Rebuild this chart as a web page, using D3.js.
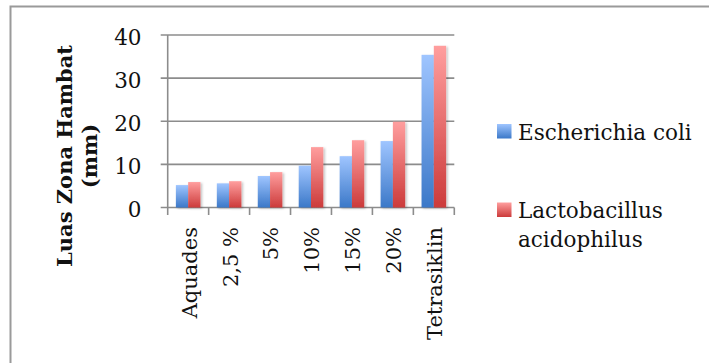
<!DOCTYPE html>
<html>
<head>
<meta charset="utf-8">
<script src="https://cdn.jsdelivr.net/npm/d3@7"></script>
<style>
  html, body { margin: 0; padding: 0; background: #fff; }
  svg { display: block; font-family: "DejaVu Serif", "Liberation Serif", serif; }
</style>
</head>
<body>
<svg id="chart"></svg>
<script>
// data
var categories = ["Aquades", "2,5 %", "5%", "10%", "15%", "20%", "Tetrasiklin"];
var seriesNames = ["Escherichia coli", "Lactobacillus acidophilus"];
var ecoliValues = [5.2, 5.6, 7.3, 9.7, 11.9, 15.4, 35.4];
var lactoValues = [5.9, 6.1, 8.2, 14.0, 15.6, 19.9, 37.5];
var yTicks = [0, 10, 20, 30, 40];

var W = 709, H = 363;
var svg = d3.select("#chart").attr("width", W).attr("height", H);

// outer frame (runs off the right and bottom edge)
svg.append("rect")
    .attr("x", 10.5).attr("y", 6.5)
    .attr("width", 760).attr("height", 420)
    .attr("fill", "none")
    .attr("stroke", "#9a9a9a")
    .attr("stroke-width", 2);

// gradients for bars
var defs = svg.append("defs");
var grads = [
    { id: "gBlue", top: "#9fc5ff", bottom: "#3b78c8" },
    { id: "gRed", top: "#ff9e9e", bottom: "#cc3b3b" }
];
grads.forEach(function (g) {
    var lg = defs.append("linearGradient").attr("id", g.id)
        .attr("x1", 0).attr("y1", 0).attr("x2", 0).attr("y2", 1);
    lg.append("stop").attr("offset", "0%").attr("stop-color", g.top);
    lg.append("stop").attr("offset", "100%").attr("stop-color", g.bottom);
});
defs.append("filter").attr("id", "shadow")
    .attr("x", "-20%").attr("y", "-5%").attr("width", "150%").attr("height", "115%")
    .append("feDropShadow")
    .attr("dx", 1.5).attr("dy", 1).attr("stdDeviation", 1.2)
    .attr("flood-color", "#000").attr("flood-opacity", 0.25);

var plotLeft = 167.7, plotRight = 454.3, plotTop = 35, plotBottom = 207.5;

var x0 = d3.scaleBand()
    .domain(categories)
    .range([plotLeft, plotRight])
    .paddingInner(0.4)
    .paddingOuter(0.2);

var x1 = d3.scaleBand()
    .domain(seriesNames)
    .range([0, x0.bandwidth()]);

var y = d3.scaleLinear()
    .domain([0, 40])
    .range([plotBottom, plotTop]);

var axisColor = "#8c8c8c";

// gridlines
svg.append("g").selectAll("line")
    .data(yTicks)
    .enter().append("line")
    .attr("x1", plotLeft - 7).attr("x2", plotRight)
    .attr("y1", function (d) { return y(d); })
    .attr("y2", function (d) { return y(d); })
    .attr("stroke", axisColor)
    .attr("stroke-width", 1.6);

// y axis line
svg.append("line")
    .attr("x1", plotLeft).attr("x2", plotLeft)
    .attr("y1", plotTop).attr("y2", plotBottom)
    .attr("stroke", axisColor).attr("stroke-width", 1.6);

// y tick labels
svg.append("g").selectAll("text")
    .data(yTicks)
    .enter().append("text")
    .attr("x", 141.5)
    .attr("y", function (d) { return y(d) + 9.5; })
    .attr("text-anchor", "end")
    .attr("font-size", 21.5)
    .attr("fill", "#111")
    .text(function (d) { return d; });

// category ticks on x axis
var step = x0.step();
var boundaries = d3.range(categories.length + 1).map(function (i) {
    return plotLeft + i * step;
});
svg.append("g").selectAll("line")
    .data(boundaries)
    .enter().append("line")
    .attr("x1", function (d) { return d; })
    .attr("x2", function (d) { return d; })
    .attr("y1", plotBottom).attr("y2", plotBottom + 7.5)
    .attr("stroke", axisColor).attr("stroke-width", 1.6);

// bars
var rows = categories.map(function (c, i) {
    return { cat: c, vals: [ecoliValues[i], lactoValues[i]] };
});
var groups = svg.append("g").selectAll("g")
    .data(rows)
    .enter().append("g")
    .attr("transform", function (d) { return "translate(" + x0(d.cat) + ",0)"; });

groups.selectAll("rect")
    .data(function (d) {
        return d.vals.map(function (v, j) { return { name: seriesNames[j], value: v, j: j }; });
    })
    .enter().append("rect")
    .attr("x", function (d) { return x1(d.name); })
    .attr("width", x1.bandwidth())
    .attr("y", function (d) { return y(d.value); })
    .attr("height", function (d) { return y(0) - y(d.value); })
    .attr("fill", function (d) { return "url(#" + grads[d.j].id + ")"; })
    .attr("filter", "url(#shadow)");

// x labels (rotated)
svg.append("g").selectAll("text")
    .data(categories)
    .enter().append("text")
    .attr("transform", function (d) {
        return "translate(" + (x0(d) + x0.bandwidth() / 2) + "," + 227 + ") rotate(-90)";
    })
    .attr("dy", "0.4em")
    .attr("text-anchor", "end")
    .attr("font-size", 21)
    .attr("fill", "#111")
    .text(function (d) { return d; });

// y axis title
var title = svg.append("text")
    .attr("transform", "translate(72,156) rotate(-90)")
    .attr("text-anchor", "middle")
    .attr("font-size", 21)
    .attr("font-weight", "bold")
    .attr("fill", "#111");
title.append("tspan").attr("x", 0).attr("y", 0).text("Luas Zona Hambat");
title.append("tspan").attr("x", 0).attr("y", 25).text("(mm)");

// legend
var legendItems = [
    { lines: ["Escherichia coli"], y: 124, grad: "gBlue" },
    { lines: ["Lactobacillus", "acidophilus"], y: 202.5, grad: "gRed" }
];
var legend = svg.append("g").selectAll("g")
    .data(legendItems)
    .enter().append("g")
    .attr("transform", function (d) { return "translate(497," + d.y + ")"; });

legend.append("rect")
    .attr("width", 14.5).attr("height", 14.5)
    .attr("fill", function (d) { return "url(#" + d.grad + ")"; });

legend.each(function (d) {
    var t = d3.select(this).append("text")
        .attr("font-size", 21.5)
        .attr("fill", "#111");
    d.lines.forEach(function (ln, k) {
        t.append("tspan").attr("x", 21).attr("y", 15.5 + k * 29).text(ln);
    });
});
</script>
</body>
</html>
